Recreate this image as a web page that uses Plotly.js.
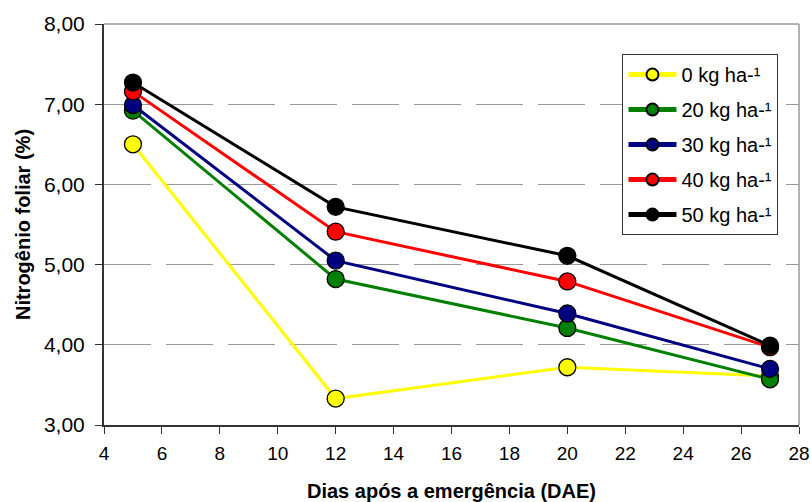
<!DOCTYPE html>
<html>
<head>
<meta charset="utf-8">
<script src="https://cdn.plot.ly/plotly-3.0.1.min.js"></script>
<style>html,body{margin:0;padding:0;background:#fff}#chart{width:811px;height:502px}</style>
</head>
<body>
<div id="chart"></div>
<script>
const dias = [5, 12, 20, 27];
const n0  = [6.50, 3.33, 3.72, 3.61];
const n20 = [6.92, 4.82, 4.21, 3.57];
const n30 = [6.99, 5.05, 4.39, 3.70];
const n40 = [7.16, 5.41, 4.79, 3.97];
const n50 = [7.27, 5.72, 5.11, 3.99];
const seriesNames = ["0 kg ha-¹", "20 kg ha-¹", "30 kg ha-¹", "40 kg ha-¹", "50 kg ha-¹"];
const seriesValues = [n0, n20, n30, n40, n50];
const colors = ["#FFFF00", "#008000", "#000080", "#FF0000", "#000000"];

const traces = seriesValues.map((v, i) => ({
  x: dias, y: v, name: seriesNames[i], type: "scatter", mode: "lines+markers",
  legendgroup: "g" + i,
  line: {color: colors[i], width: 3},
  marker: {color: colors[i], size: 17, line: {color: "#000", width: 1.3}}
}));

const layout = {
  width: 811, height: 502,
  margin: {l: 104, r: 12, t: 24, b: 77},
  paper_bgcolor: "#fff", plot_bgcolor: "#fff",
  separators: ",.",
  font: {family: "Arial, 'Liberation Sans', sans-serif", color: "#000"},
  showlegend: true,
  legend: {
    x: 0.746, y: 0.925, xanchor: "left", yanchor: "top",
    bgcolor: "#fff", bordercolor: "#333", borderwidth: 1,
    font: {size: 20, color: "#000"}, tracegroupgap: 6, traceorder: "grouped",
    itemsizing: "constant", itemwidth: 48
  },
  xaxis: {
    range: [4, 28], dtick: 2, tick0: 4, showgrid: false, zeroline: false,
    showline: true, linecolor: "#333", linewidth: 2,
    ticks: "outside", ticklen: 7, tickcolor: "#333",
    tickfont: {size: 19}, ticklabelstandoff: 3,
    title: {text: "<b>Dias após a emergência (DAE)</b>", font: {size: 20}, standoff: 22}
  },
  yaxis: {
    range: [3, 8], dtick: 1, tick0: 3, tickformat: ".2f", zeroline: false,
    showgrid: true, gridcolor: "#999", gridwidth: 1, griddash: "47px,15px",
    showline: true, linecolor: "#333", linewidth: 2,
    ticks: "outside", ticklen: 7, tickcolor: "#333",
    tickfont: {size: 21}, ticklabelstandoff: 6,
    title: {text: "<b>Nitrogênio foliar (%)</b>", font: {size: 20}, standoff: 8}
  },
  shapes: [
    {type: "line", xref: "paper", yref: "paper", x0: 0, x1: 1, y0: 1, y1: 1, line: {color: "#999", width: 1.5}},
    {type: "line", xref: "paper", yref: "paper", x0: 1, x1: 1, y0: 0, y1: 1, line: {color: "#999", width: 1.5}}
  ]
};

Plotly.newPlot("chart", traces, layout, {displayModeBar: false, staticPlot: true});
</script>
</body>
</html>
